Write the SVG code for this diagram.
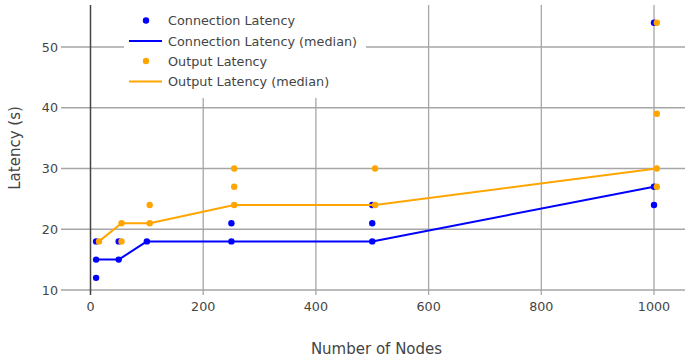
<svg xmlns="http://www.w3.org/2000/svg" width="685" height="358" viewBox="0 0 685 358">
<style>
.grid{stroke:#a6a6a6;stroke-width:1.3;fill:none}
.zero{stroke:#444;stroke-width:1.5;fill:none}
.tick{font-family:"DejaVu Sans",Verdana,sans-serif;font-size:12.7px;fill:#444}
.title{font-family:"DejaVu Sans",Verdana,sans-serif;font-size:15px;fill:#444}
.leg{font-family:"DejaVu Sans",Verdana,sans-serif;font-size:12.8px;fill:#444}
.bl{stroke:#0000ff;stroke-width:2;fill:none;stroke-linejoin:round}
.ol{stroke:#ffa500;stroke-width:2;fill:none;stroke-linejoin:round}
.bd{fill:#0000ff}
.od{fill:#ffa500}
</style>
<rect width="685" height="358" fill="#fff"/>
<g id="grid">
<line class="grid" x1="61" y1="290" x2="685" y2="290"/>
<line class="grid" x1="61" y1="229.25" x2="685" y2="229.25"/>
<line class="grid" x1="61" y1="168.5" x2="685" y2="168.5"/>
<line class="grid" x1="61" y1="107.75" x2="685" y2="107.75"/>
<line class="grid" x1="61" y1="47" x2="685" y2="47"/>
<line class="grid" x1="203.2" y1="5" x2="203.2" y2="295"/>
<line class="grid" x1="315.9" y1="5" x2="315.9" y2="295"/>
<line class="grid" x1="428.6" y1="5" x2="428.6" y2="295"/>
<line class="grid" x1="541.3" y1="5" x2="541.3" y2="295"/>
<line class="grid" x1="654" y1="5" x2="654" y2="295"/>
<line class="zero" x1="90.5" y1="5" x2="90.5" y2="295"/>
</g>
<g id="axes-labels">
<text class="tick" x="58" y="51.5" text-anchor="end">50</text>
<text class="tick" x="58" y="112.2" text-anchor="end">40</text>
<text class="tick" x="58" y="173" text-anchor="end">30</text>
<text class="tick" x="58" y="233.7" text-anchor="end">20</text>
<text class="tick" x="58" y="294.5" text-anchor="end">10</text>
<text class="tick" x="90.5" y="311" text-anchor="middle">0</text>
<text class="tick" x="203.2" y="311" text-anchor="middle">200</text>
<text class="tick" x="315.9" y="311" text-anchor="middle">400</text>
<text class="tick" x="428.6" y="311" text-anchor="middle">600</text>
<text class="tick" x="541.3" y="311" text-anchor="middle">800</text>
<text class="tick" x="654" y="311" text-anchor="middle">1000</text>
<text class="title" x="376.5" y="353.5" text-anchor="middle">Number of Nodes</text>
<text class="title" text-anchor="middle" transform="translate(20,148) rotate(-90)">Latency (s)</text>
</g>
<g id="connectors">
<g id="connection-latency">
<circle class="bd" cx="96.1" cy="241.4" r="3.2"/>
<circle class="bd" cx="96.1" cy="259.6" r="3.2"/>
<circle class="bd" cx="96.1" cy="277.85" r="3.2"/>
<circle class="bd" cx="118.7" cy="241.4" r="3.2"/>
<circle class="bd" cx="118.7" cy="259.6" r="3.2"/>
<circle class="bd" cx="146.85" cy="241.4" r="3.2"/>
<circle class="bd" cx="231.4" cy="223.2" r="3.2"/>
<circle class="bd" cx="231.4" cy="241.4" r="3.2"/>
<circle class="bd" cx="372.25" cy="204.95" r="3.2"/>
<circle class="bd" cx="372.25" cy="223.2" r="3.2"/>
<circle class="bd" cx="372.25" cy="241.4" r="3.2"/>
<circle class="bd" cx="654" cy="22.7" r="3.2"/>
<circle class="bd" cx="654" cy="186.7" r="3.2"/>
<circle class="bd" cx="654" cy="204.95" r="3.2"/>
</g>
<g id="connection-median">
<polyline class="bl" points="96.1,259.6 118.7,259.6 146.85,241.4 231.4,241.4 372.25,241.4 654,186.7"/>
</g>
<g id="output-latency">
<circle class="od" cx="99" cy="241.4" r="3.2"/>
<circle class="od" cx="121.5" cy="223.2" r="3.2"/>
<circle class="od" cx="121.5" cy="241.4" r="3.2"/>
<circle class="od" cx="149.7" cy="204.95" r="3.2"/>
<circle class="od" cx="149.7" cy="223.2" r="3.2"/>
<circle class="od" cx="234.2" cy="168.5" r="3.2"/>
<circle class="od" cx="234.2" cy="186.7" r="3.2"/>
<circle class="od" cx="234.2" cy="204.95" r="3.2"/>
<circle class="od" cx="375.1" cy="168.5" r="3.2"/>
<circle class="od" cx="375.1" cy="204.95" r="3.2"/>
<circle class="od" cx="656.8" cy="22.7" r="3.2"/>
<circle class="od" cx="656.8" cy="113.8" r="3.2"/>
<circle class="od" cx="656.8" cy="168.5" r="3.2"/>
<circle class="od" cx="656.8" cy="186.7" r="3.2"/>
</g>
<g id="output-median">
<polyline class="ol" points="99,241.4 121.5,223.2 149.7,223.2 234.2,204.95 375.1,204.95 656.8,168.5"/>
</g>
</g>
<g id="legend">
<rect x="124" y="0" width="242" height="98" fill="#fff"/>
<circle class="bd" cx="146" cy="20.5" r="3.2"/>
<text class="leg" x="168" y="25">Connection Latency</text>
<line class="bl" x1="129" y1="41" x2="162" y2="41"/>
<text class="leg" x="168" y="45.5">Connection Latency (median)</text>
<circle class="od" cx="146" cy="61" r="3.2"/>
<text class="leg" x="168" y="65.5">Output Latency</text>
<line class="ol" x1="129" y1="81.5" x2="162" y2="81.5"/>
<text class="leg" x="168" y="86">Output Latency (median)</text>
</g>
</svg>
